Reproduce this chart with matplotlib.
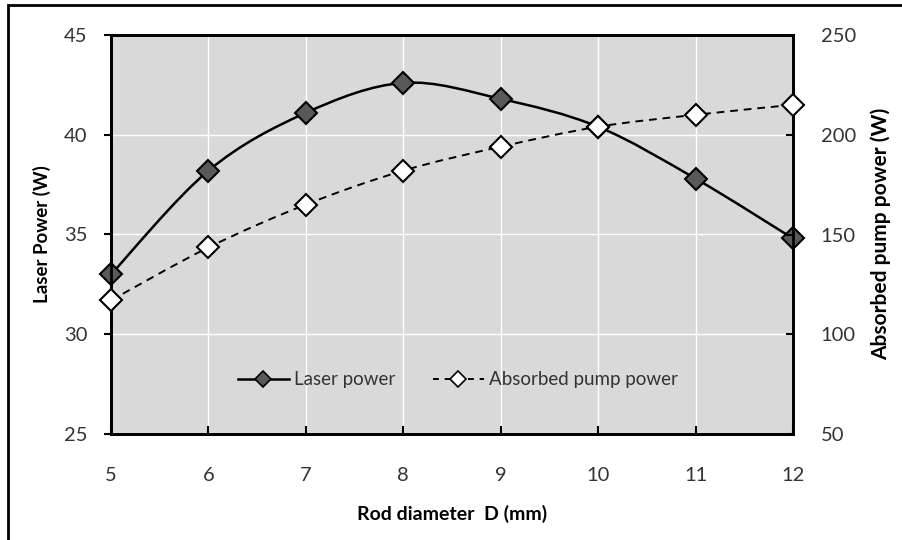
import numpy as np
import matplotlib
matplotlib.use('Agg')
from matplotlib import pyplot as plt
from matplotlib.path import Path
from matplotlib.patches import PathPatch, Rectangle
from matplotlib.lines import Line2D

# rod diameter D (mm)
diameter = [5, 6, 7, 8, 9, 10, 11, 12]
# laser output power (W), left axis
laser_power = [33.0, 38.2, 41.1, 42.6, 41.8, 40.4, 37.8, 34.8]
# absorbed pump power (W), right axis
absorbed_power = [117, 143.5, 165, 182, 194, 204, 210, 215]

left_ticks = [25, 30, 35, 40, 45]
right_ticks = [50, 100, 150, 200, 250]

plt.rcParams['font.family'] = ['Lato', 'DejaVu Sans']


def smooth_path(xs, ys):
    # excel style smoothed line: cubic bezier pieces through the data points
    pts = np.column_stack((xs, ys)).astype(float)
    verts = [pts[0]]
    codes = [Path.MOVETO]
    n = len(pts)
    for i in range(n - 1):
        p0 = pts[max(i - 1, 0)]
        p1 = pts[i]
        p2 = pts[i + 1]
        p3 = pts[min(i + 2, n - 1)]
        c1 = p1 + (p2 - p0) / 6.0
        c2 = p2 - (p3 - p1) / 6.0
        verts += [c1, c2, p2]
        codes += [Path.CURVE4] * 3
    return Path(verts, codes)


fig = plt.figure(figsize=(9.02, 5.40), dpi=100)
fig.patch.set_facecolor('white')
ax = fig.add_axes([111/902, 1-434/540, 682/902, 399/540])
ax.set_facecolor('#d9d9d9')
ax.set_xlim(5, 12)
ax.set_ylim(25, 45)
ax.set_xticks(diameter)
ax.set_yticks(left_ticks)
ax.grid(True, color='white', linewidth=1.0)
ax.set_axisbelow(True)
for sp in ax.spines.values():
    sp.set_linewidth(2.0)
ax.tick_params(axis='y', direction='out', length=5, width=1.5, labelsize=14.5, pad=12,
               labelcolor='#333333')
ax.tick_params(axis='x', direction='in', length=6, width=1.5, labelsize=14.5, pad=24,
               labelcolor='#333333')

ax2 = ax.twinx()
ax2.set_ylim(50, 250)
ax2.set_yticks(right_ticks)
ax2.tick_params(axis='y', direction='in', length=5, width=1.5, labelsize=14.5, pad=20,
                labelcolor='#333333')
for sp in ax2.spines.values():
    sp.set_linewidth(2.0)

# laser power, smooth solid line
ax.add_patch(PathPatch(smooth_path(diameter, laser_power), facecolor='none',
                       edgecolor='black', linewidth=1.8, zorder=3))
ax.plot(diameter, laser_power, linestyle='none', marker='D', markersize=11,
        markerfacecolor='#595959', markeredgecolor='black', markeredgewidth=1.5,
        zorder=4, clip_on=False)

# absorbed pump power, smooth dashed line
ax2.add_patch(PathPatch(smooth_path(diameter, absorbed_power), facecolor='none',
                        edgecolor='black', linewidth=1.4, linestyle=(0, (4, 3)), zorder=3))
ax2.plot(diameter, absorbed_power, linestyle='none', marker='D', markersize=11,
         markerfacecolor='white', markeredgecolor='black', markeredgewidth=1.5,
         zorder=4, clip_on=False)

handles = [
    Line2D([], [], color='black', linewidth=1.8, marker='D', markersize=8,
           markerfacecolor='#595959', markeredgecolor='black', markeredgewidth=1.2),
    Line2D([], [], color='black', linewidth=1.4, linestyle=(0, (3, 3)), marker='D', markersize=8,
           markerfacecolor='white', markeredgecolor='black', markeredgewidth=1.2),
]
ax2.legend(handles, ['Laser power', 'Absorbed pump power'], loc='center',
           bbox_to_anchor=((458 - 111) / 682, (434 - 380) / 399), ncol=2, frameon=False,
           fontsize=13.5, handlelength=2.7, handletextpad=0.3, columnspacing=2.0,
           labelcolor='#333333')

fig.text(42/902, 1-234/540, 'Laser Power (W)', rotation=90, ha='center', va='center',
         fontsize=13.5, fontweight='bold')
fig.text(881/902, 1-234/540, 'Absorbed pump power (W)', rotation=90, ha='center', va='center',
         fontsize=15, fontweight='bold')
fig.text(452/902, 1-514/540, 'Rod diameter  D (mm)', ha='center', va='center',
         fontsize=14, fontweight='bold')

# outer frame of the figure (right and bottom edges fall outside the picture)
fig.patches.append(Rectangle((8/902, -0.1), 1.0, 1.1 - 5/540, transform=fig.transFigure,
                             fill=False, edgecolor='black', linewidth=2.0, zorder=0))

plt.savefig('out.png', dpi=100)
plt.close()
